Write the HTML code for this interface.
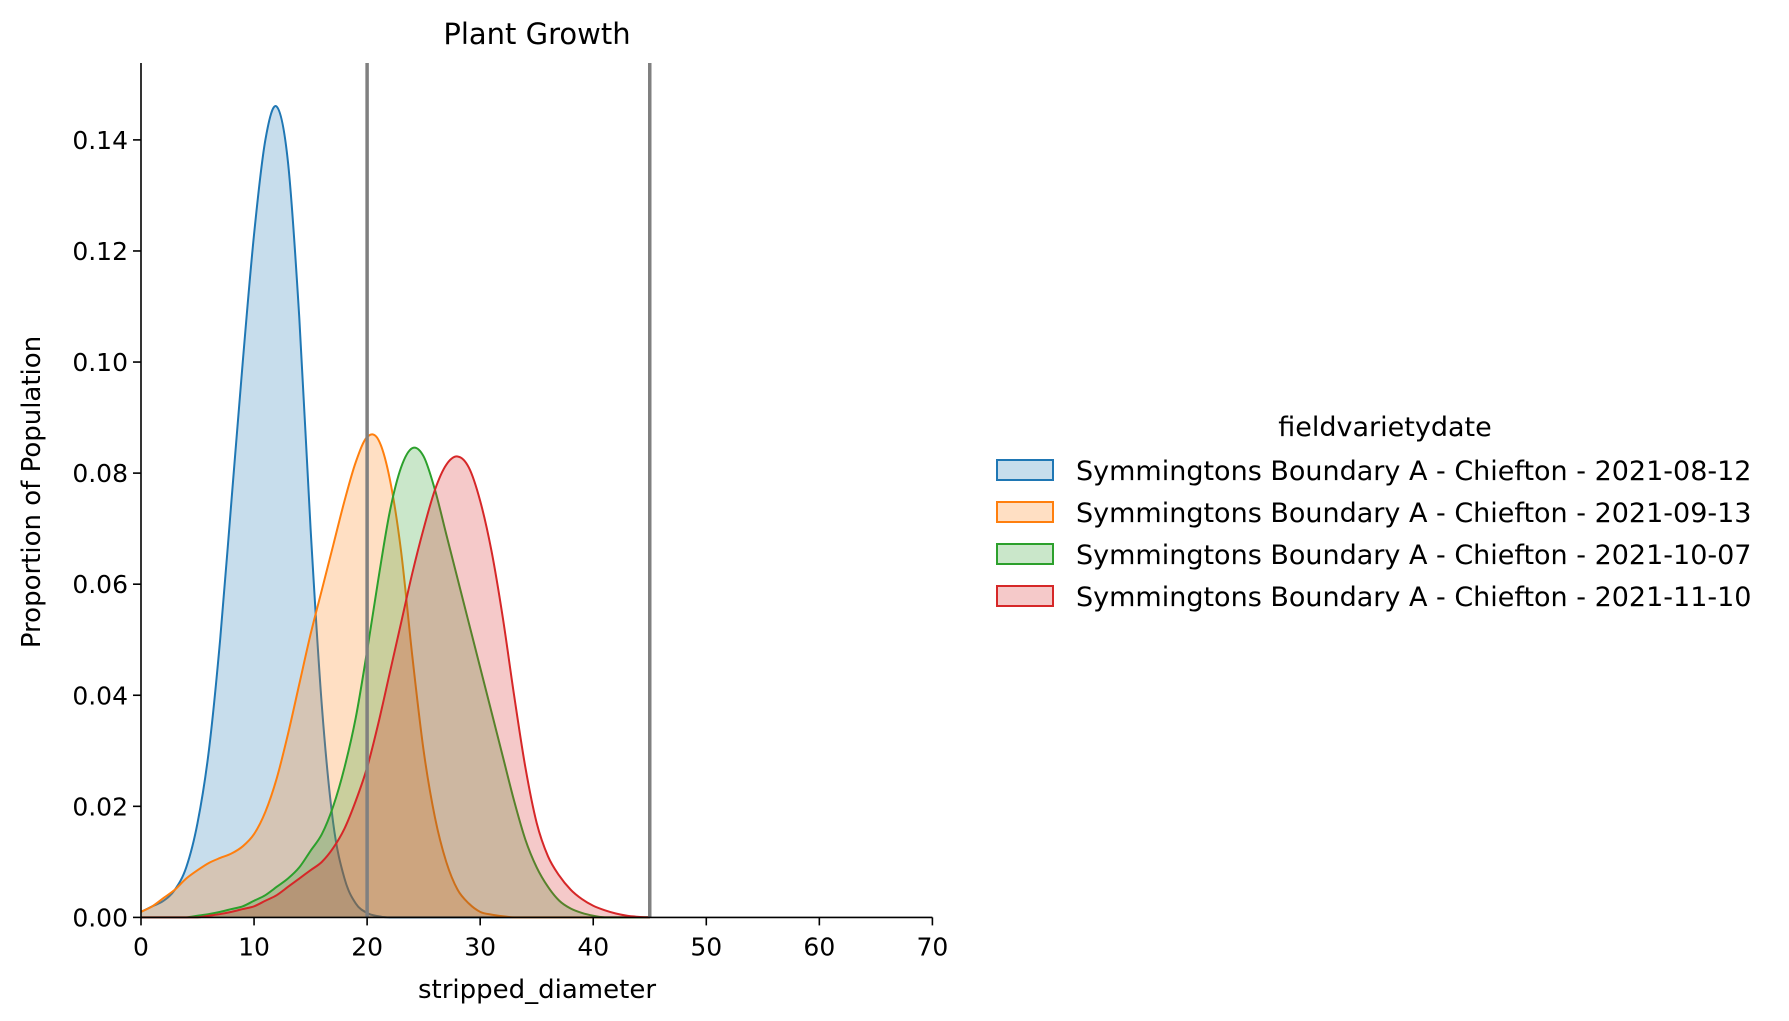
<!DOCTYPE html>
<html><head><meta charset="utf-8"><style>
body{margin:0;background:#fff;}
svg{display:block;font-family:"DejaVu Sans","Liberation Sans",sans-serif;}
</style></head><body>
<svg id="chart" width="1789" height="1021" viewBox="0 0 1789 1021">
<g id="plot"></g>
<g id="axes"></g>
<text x="537" y="44" font-size="29" text-anchor="middle">Plant Growth</text>
<text x="537" y="998" font-size="26" text-anchor="middle">stripped_diameter</text>
<text transform="translate(40,492) rotate(-90)" font-size="26" text-anchor="middle">Proportion of Population</text>
<g id="legend">
<text x="1385" y="436" font-size="27" text-anchor="middle">fieldvarietydate</text>
</g>
</svg>
<script>
const seriesNames=["Symmingtons Boundary A - Chiefton - 2021-08-12","Symmingtons Boundary A - Chiefton - 2021-09-13","Symmingtons Boundary A - Chiefton - 2021-10-07","Symmingtons Boundary A - Chiefton - 2021-11-10"];
const xValues=[0,1,2,3,4,5,6,7,8,9,10,11,12,13,14,15,16,17,18,19,20,21,22,23,24,25,26,27,28,29,30,31,32,33,34,35,36,37,38,39,40,41,42,43,44,45];
const blue=[0.001,0.002,0.003,0.005,0.009,0.017,0.03,0.05,0.075,0.1,0.123,0.14,0.146,0.136,0.108,0.07,0.038,0.017,0.007,0.0025,0.0008,0.0002,0,0,0,0,0,0,0,0,0,0,0,0,0,0,0,0,0,0,0,0,0,0,0,0];
const orange=[0.001,0.002,0.0035,0.005,0.007,0.0085,0.0098,0.0107,0.0115,0.0128,0.015,0.019,0.025,0.033,0.042,0.051,0.059,0.067,0.075,0.082,0.0865,0.086,0.079,0.066,0.047,0.03,0.018,0.01,0.005,0.0025,0.001,0.0005,0.0002,0,0,0,0,0,0,0,0,0,0,0,0,0];
const green=[0,0,0,0,0,0.0003,0.0006,0.001,0.0015,0.002,0.003,0.004,0.0055,0.007,0.009,0.012,0.015,0.02,0.027,0.036,0.048,0.061,0.073,0.081,0.0845,0.083,0.077,0.069,0.061,0.053,0.045,0.037,0.029,0.021,0.014,0.009,0.0055,0.003,0.0016,0.0008,0.0003,0,0,0,0,0];
const red=[0,0,0,0,0,0,0.0003,0.0006,0.001,0.0015,0.002,0.003,0.004,0.0055,0.007,0.0085,0.01,0.0125,0.016,0.021,0.027,0.035,0.044,0.053,0.062,0.07,0.077,0.0815,0.083,0.081,0.075,0.066,0.054,0.04,0.027,0.017,0.011,0.0075,0.005,0.0033,0.0021,0.0013,0.0007,0.0003,0.0001,0];
const xTicks=[0,10,20,30,40,50,60,70];
const yTicks=[0,0.02,0.04,0.06,0.08,0.10,0.12,0.14];
const yTickLabels=["0.00","0.02","0.04","0.06","0.08","0.10","0.12","0.14"];
const vLines=[20,45];

const NS="http://www.w3.org/2000/svg";
const L=141,R=932.4,B=917.4,T=63;
const xs=v=>L+(v/70)*(R-L);
const ys=v=>B-(v/0.14)*(B-139.9);
const colors=["#1f77b4","#ff7f0e","#2ca02c","#d62728"];
const allSeries=[blue,orange,green,red];
function mk(tag,attrs,parent){const e=document.createElementNS(NS,tag);for(const k in attrs)e.setAttribute(k,attrs[k]);parent.appendChild(e);return e;}
function pathFor(vals){
  const p=xValues.map((x,i)=>[xs(x),ys(vals[i])]);
  let d="M"+p[0][0]+","+p[0][1];
  for(let i=0;i<p.length-1;i++){
    const p0=p[Math.max(0,i-1)],p1=p[i],p2=p[i+1],p3=p[Math.min(p.length-1,i+2)];
    const c1=[p1[0]+(p2[0]-p0[0])/6,p1[1]+(p2[1]-p0[1])/6];
    const c2=[p2[0]-(p3[0]-p1[0])/6,p2[1]-(p3[1]-p1[1])/6];
    d+=" C"+c1[0]+","+Math.min(B,c1[1])+" "+c2[0]+","+Math.min(B,c2[1])+" "+p2[0]+","+p2[1];
  }
  return d;
}
const plot=document.getElementById('plot');
allSeries.forEach((vals,i)=>{
  const d=pathFor(vals);
  const f=mk('path',{d:d+" L"+xs(xValues[xValues.length-1])+","+B+" L"+xs(0)+","+B+" Z",fill:colors[i],'fill-opacity':0.25,stroke:'none'},plot);
  
  
  const s=mk('path',{d:d,fill:'none',stroke:colors[i],'stroke-width':2},plot);
  
  
});
vLines.forEach(v=>{
  const l=mk('line',{x1:xs(v),x2:xs(v),y1:T,y2:B,stroke:'#808080','stroke-width':3.5},plot);
  
  
});
const axes=document.getElementById('axes');
const ya=mk('line',{x1:L,x2:L,y1:T,y2:B,stroke:'#000','stroke-width':1.6},axes);


const xa=mk('line',{x1:L,x2:R,y1:B,y2:B,stroke:'#000','stroke-width':1.6},axes);


xTicks.forEach(t=>{
  mk('line',{x1:xs(t),x2:xs(t),y1:B,y2:B+8,stroke:'#000','stroke-width':1.6},axes);
  const tx=mk('text',{x:xs(t),y:B+38,'font-size':25,'text-anchor':'middle'},axes);
  tx.textContent=t;
  
  
});
yTicks.forEach((t,i)=>{
  mk('line',{x1:L-8,x2:L,y1:ys(t),y2:ys(t),stroke:'#000','stroke-width':1.6},axes);
  const tx=mk('text',{x:L-13,y:ys(t)+9,'font-size':25,'text-anchor':'end'},axes);
  tx.textContent=yTickLabels[i];
  
  
});
const leg=document.getElementById('legend');
const rowsY=[470,512,554,596];
seriesNames.forEach((n,i)=>{
  const g=mk('g',{},leg);
  
  
  mk('rect',{x:997,y:rowsY[i]-10,width:56,height:20,fill:colors[i],'fill-opacity':0.25,stroke:colors[i],'stroke-width':2},g);
  const t=mk('text',{x:1076,y:rowsY[i]+10,'font-size':27},g);
  t.textContent=n;
});
</script>
</body></html>
